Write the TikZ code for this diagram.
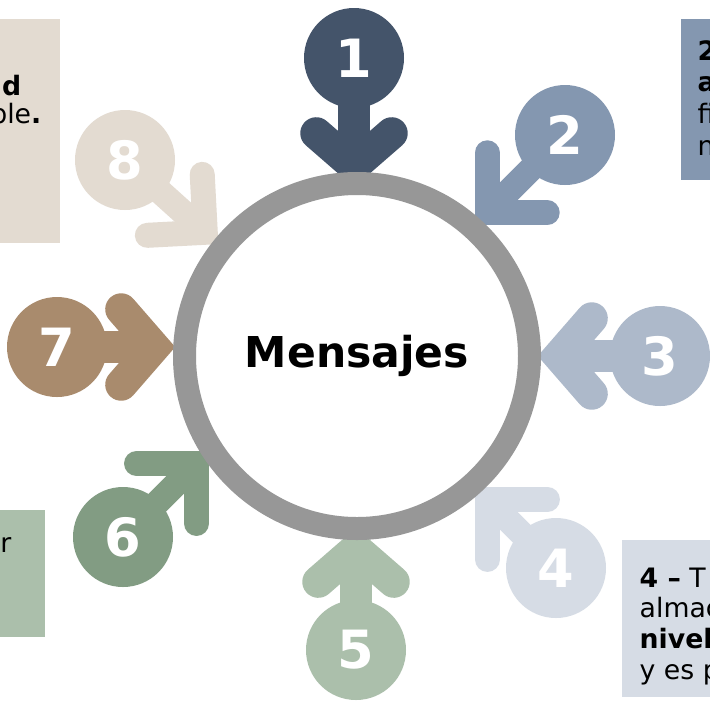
\documentclass[tikz,border=0pt]{standalone}
\usepackage{fontspec}
\setmainfont{DejaVu Sans}
\usepackage{tikz}
\usetikzlibrary{
  calc,
  backgrounds,
}
\definecolor{navy}{HTML}{44546A}
\definecolor{steel}{HTML}{8497B0}
\definecolor{haze}{HTML}{ADB9CA}
\definecolor{frost}{HTML}{D6DCE5}
\definecolor{sage}{HTML}{ABBFAB}
\definecolor{moss}{HTML}{829C83}
\definecolor{clay}{HTML}{A98B6D}
\definecolor{sand}{HTML}{E3DBD1}
\definecolor{ringgray}{HTML}{979797}
\tikzset{
  note/.style={font=\fontsize{7.6}{8.8}\selectfont, text=black, inner sep=0pt},
  disc/.style={
    circle,
    fill=#1,
    minimum size=1cm,
    inner sep=0pt,
    text=white,
    font=\fontsize{15}{15}\selectfont\bfseries,
  },
  hub/.style={
    circle,
    draw=ringgray,
    line width=0.23cm,
    minimum size=3.45cm,
    inner sep=0pt,
    font=\fontsize{12.1}{15}\selectfont\bfseries,
    text=black,
  },
}

\begin{document}
\begin{tikzpicture}[x=1cm,y=1cm]
  \useasboundingbox (0,0) rectangle (7.10,7.00);
  \clip (0,0) rectangle (7.10,7.00);
  \begin{scope}[on background layer]
    \fill[white] (0,0) rectangle (7.10,7.00);
  \end{scope}

  % side boxes
  \fill[sand] (0,4.57) rectangle (0.60,6.81);
  \fill[steel] (6.81,5.20) rectangle (7.30,6.81);
  \fill[sage] (0,0.63) rectangle (0.45,1.90);
  \fill[frost] (6.22,0.03) rectangle (7.30,1.60);

  \node[note, anchor=base east] (tl1) at (0.22,6.05) {\textbf{nd}};
  \node[note, anchor=base east] (tl2) at (0.42,5.77) {ble\textbf{.}};

  \node[note, anchor=base west] (tr1) at (6.97,6.40) {\textbf{2}};
  \node[note, anchor=base west] (tr2) at (6.97,6.09) {\textbf{a}};
  \node[note, anchor=base west] (tr3) at (6.97,5.77) {fi};
  \node[note, anchor=base west] (tr4) at (6.97,5.45) {n};

  \node[note, anchor=base east] (bl1) at (0.12,1.48) {r};

  \node[note, anchor=base west] (br1) at (6.39,1.13) {\textbf{4 –} T};
  \node[note, anchor=base west] (br2) at (6.39,0.83) {almac};
  \node[note, anchor=base west] (br3) at (6.39,0.52) {\textbf{nivel}};
  \node[note, anchor=base west] (br4) at (6.39,0.21) {y es p};

  % numbered arrows: disc, shaft, chevron (\b = spread of the arms)
  \foreach \i/\x/\y/\a/\s/\l/\b/\w/\c in {
    1/3.54/6.42/-90/1.08/0.50/131/0.32/navy,
    2/5.65/5.65/-135/1.10/0.60/135/0.25/steel,
    3/6.60/3.44/180/1.01/0.50/131/0.32/haze,
    4/5.56/1.32/135/0.97/0.60/135/0.25/frost,
    5/3.56/0.50/90/1.01/0.50/131/0.32/sage,
    6/1.23/1.63/45/1.04/0.60/135/0.25/moss,
    7/0.57/3.53/0/0.97/0.50/131/0.32/clay,
    8/1.25/5.40/-42/1.08/0.58/135/0.25/sand%
  } {
    \node[disc=\c] (n\i) at (\x,\y) {\i};
    \coordinate (t\i) at ($(n\i.center)+(\a:\s)$);
    \begin{scope}[on background layer]
      \draw[\c, line width=\w cm] (n\i.center) -- (t\i);
    \end{scope}
    \draw[\c, line width=\w cm, line cap=round]
      ($(t\i)+(\a+\b:\l)$) -- (t\i) -- ($(t\i)+(\a-\b:\l)$);
  }

  % centre ring
  \node[hub] (msg) at (3.57,3.44) {Mensajes};
\end{tikzpicture}
\end{document}
